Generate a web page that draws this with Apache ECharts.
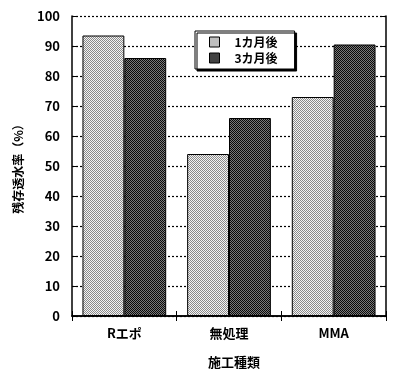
<!DOCTYPE html>
<html><head><meta charset="utf-8">
<script src="https://cdn.jsdelivr.net/npm/echarts@6/dist/echarts.min.js"></script>
<style>html,body{margin:0;padding:0;background:#fff}#c{width:400px;height:371px}</style>
</head><body><div id="c"></div>
<script>
const categories = ['Rエポ', '無処理', 'MMA'];
const seriesNames = ['1カ月後', '3カ月後'];
const oneMonth = [93.5, 54, 73];
const threeMonth = [86, 66, 90.5];
const yTicks = [0, 10, 20, 30, 40, 50, 60, 70, 80, 90, 100];

function pattern(a, b) {
  const c = document.createElement('canvas');
  c.width = 2; c.height = 2;
  const g = c.getContext('2d');
  g.fillStyle = a; g.fillRect(0, 0, 2, 2);
  g.fillStyle = b; g.fillRect(0, 0, 1, 1); g.fillRect(1, 1, 1, 1);
  return { image: c, repeat: 'repeat' };
}
const lightPat = pattern('#f4f4f4', '#8a8a8a');
const darkPat = pattern('#7a7a7a', '#0a0a0a');

const font = '"Noto Sans CJK JP", "DejaVu Sans", sans-serif';
const chart = echarts.init(document.getElementById('c'), null, { renderer: 'canvas' });
chart.setOption({
  animation: false,
  textStyle: { fontFamily: font },
  grid: { left: 72, right: 14, top: 16, bottom: 55, show: false, containLabel: false, outerBoundsMode: 'none' },
  legend: {
    orient: 'vertical',
    left: 195, top: 31,
    padding: [5, 17, 5, 14],
    itemGap: 4,
    icon: 'rect',
    itemWidth: 10, itemHeight: 10,
    backgroundColor: '#fff',
    borderColor: '#000', borderWidth: 1,
    shadowColor: '#000', shadowOffsetX: 2, shadowOffsetY: 2, shadowBlur: 0,
    textStyle: { fontSize: 12, fontWeight: 'bold', color: '#000', fontFamily: font, padding: [0, 0, 0, 10] },
    data: seriesNames.map(n => ({ name: n, itemStyle: { borderColor: '#000', borderWidth: 1 } }))
  },
  xAxis: [{
    type: 'category', data: categories, position: 'bottom',
    axisLine: { show: true, lineStyle: { color: '#000', width: 1.5 } },
    axisTick: { show: true, inside: true, length: 5, lineStyle: { color: '#000' } },
    axisLabel: { color: '#000', fontSize: 13, fontWeight: 'bold', margin: 11, fontFamily: font },
    name: '施工種類', nameLocation: 'middle', nameGap: 40,
    nameTextStyle: { color: '#000', fontSize: 13, fontWeight: 'bold', fontFamily: font, padding: [0, 0, 0, 10] }
  }, {
    type: 'category', data: categories, position: 'top',
    axisLine: { show: true, lineStyle: { color: '#000', width: 1.5 } },
    axisTick: { show: true, inside: true, length: 5, lineStyle: { color: '#000' } },
    axisLabel: { show: false }
  }],
  yAxis: [{
    type: 'value', min: 0, max: 100, interval: 10, position: 'left',
    axisLine: { show: true, lineStyle: { color: '#000', width: 1.5 } },
    axisTick: { show: true, inside: true, length: 5, lineStyle: { color: '#000' } },
    axisLabel: { color: '#000', fontSize: 13, fontWeight: 'bold', margin: 12, fontFamily: font,
      formatter: v => yTicks.includes(v) ? String(v) : '' },
    splitLine: { show: true, lineStyle: { color: '#000', type: [2, 2], width: 1.2 } },
    name: '残存透水率（%）', nameLocation: 'middle', nameGap: 48, nameRotate: 90,
    nameTextStyle: { color: '#000', fontSize: 12, fontWeight: 'bold', fontFamily: font }
  }, {
    type: 'value', min: 0, max: 100, interval: 10, position: 'right',
    axisLine: { show: true, lineStyle: { color: '#000', width: 1.5 } },
    axisTick: { show: true, inside: true, length: 5, lineStyle: { color: '#000' } },
    axisLabel: { show: false }, splitLine: { show: false }
  }],
  series: [{
    name: seriesNames[0], type: 'bar', data: oneMonth,
    barGap: '0%', barCategoryGap: '20%',
    itemStyle: { color: lightPat, borderColor: '#000', borderWidth: 1 }
  }, {
    name: seriesNames[1], type: 'bar', data: threeMonth,
    itemStyle: { color: darkPat, borderColor: '#000', borderWidth: 1 }
  }]
});
</script></body></html>
